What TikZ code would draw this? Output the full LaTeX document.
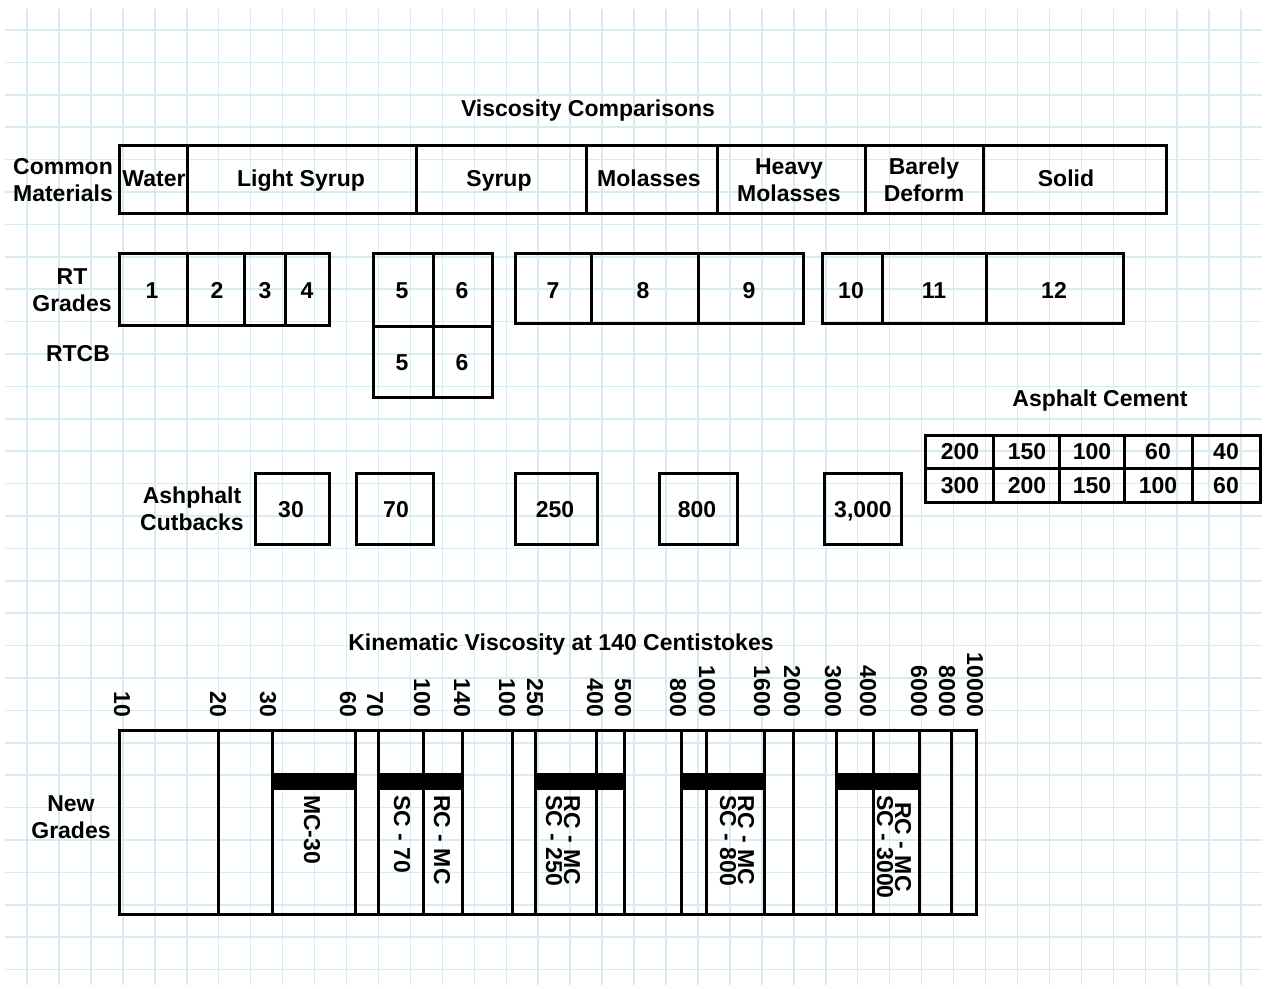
\documentclass[tikz,border=0pt]{standalone}
\usepackage{fontspec}
\setmainfont{Liberation Sans}
\begin{document}
\begin{tikzpicture}[x=1pt,y=-1pt,
  gridline/.style={draw={rgb,255:red,214;green,236;blue,241},line width=1.5pt},
  frame/.style={draw=black,line width=3pt,line join=miter},
  txt/.style={font=\bfseries\fontsize{23}{27}\selectfont,align=center,inner sep=0pt},
  one/.style={txt,text height=16.5pt,text depth=0pt},
  vlab/.style={font=\bfseries\fontsize{23}{18}\selectfont,align=center,inner sep=0pt,rotate=-90},
  bar/.style={fill=black,draw=none}]
\useasboundingbox (0,0) rectangle (1266,988);
\fill[white] (0,0) rectangle (1266,988);
% background grid
\foreach \i in {0,...,38} \draw[gridline] ({27+31.95*\i},9) -- ({27+31.95*\i},985);
\foreach \j in {0,...,29} \draw[gridline] (5,{30+32.4*\j}) -- (1262,{30+32.4*\j});

% ---------- Common materials ----------
\node[one] (title) at (588,108) {Viscosity Comparisons};
\node[txt] (cm) at (63,180) {Common\\Materials};
\draw[frame] (119,145) rectangle (1166,213);
\foreach \x in {187,416,586,717,865,983} \draw[frame] (\x,145) -- (\x,213);
\node[one] (water) at (154,178) {Water};
\node[one] (lsyr) at (301,178) {Light Syrup};
\node[one] (syr) at (499,178) {Syrup};
\node[one] (mol) at (649,178) {Molasses};
\node[txt] (hmol) at (789,180) {Heavy\\Molasses};
\node[txt] (bar) at (924,180) {Barely\\Deform};
\node[one] (solid) at (1066,178) {Solid};

% ---------- RT grades ----------
\node[txt] (rt) at (72,290) {RT\\Grades};
\node[one] (rtcb) at (78,353) {RTCB};
\draw[frame] (119,253) rectangle (329,325);
\foreach \x in {187,244,285} \draw[frame] (\x,253) -- (\x,325);
\draw[frame] (373,253) rectangle (492,397);
\draw[frame] (433,253) -- (433,397);
\draw[frame] (373,326) -- (492,326);
\draw[frame] (515,253) rectangle (803,323);
\foreach \x in {591,698} \draw[frame] (\x,253) -- (\x,323);
\draw[frame] (822,253) rectangle (1123,323);
\foreach \x in {882,986} \draw[frame] (\x,253) -- (\x,323);
\node[one] (g1) at (152,290) {1};
\node[one] (g2) at (217,290) {2};
\node[one] (g3) at (265,290) {3};
\node[one] (g4) at (307,290) {4};
\node[one] (g5) at (402,290) {5};
\node[one] (g6) at (462,290) {6};
\node[one] (c5) at (402,362) {5};
\node[one] (c6) at (462,362) {6};
\node[one] (g7) at (553,290) {7};
\node[one] (g8) at (643,290) {8};
\node[one] (g9) at (749,290) {9};
\node[one] (g10) at (851,290) {10};
\node[one] (g11) at (934,290) {11};
\node[one] (g12) at (1054,290) {12};

% ---------- Asphalt cement ----------
\node[one] (ac) at (1100,398) {Asphalt Cement};
\draw[frame] (925,435) rectangle (1260,502);
\foreach \x in {993,1059,1124,1192} \draw[frame] (\x,435) -- (\x,502);
\draw[frame] (925,468) -- (1260,468);
\node[one] (a11) at (960,451) {200};
\node[one] (a12) at (1027,451) {150};
\node[one] (a13) at (1092,451) {100};
\node[one] (a14) at (1158,451) {60};
\node[one] (a15) at (1226,451) {40};
\node[one] (a21) at (960,485) {300};
\node[one] (a22) at (1027,485) {200};
\node[one] (a23) at (1092,485) {150};
\node[one] (a24) at (1158,485) {100};
\node[one] (a25) at (1226,485) {60};

% ---------- Cutbacks ----------
\node[txt] (cut) at (192,509) {Ashphalt\\Cutbacks};
\foreach \a/\b in {255/329,356/433,515/597,659/737,824/901} \draw[frame] (\a,473) rectangle (\b,544);
\node[one] (k30) at (291,509) {30};
\node[one] (k70) at (396,509) {70};
\node[one] (k250) at (555,509) {250};
\node[one] (k800) at (697,509) {800};
\node[one] (k3000) at (863,509) {3,000};

% ---------- Kinematic viscosity ----------
\node[one] (kin) at (561,642) {Kinematic Viscosity at 140 Centistokes};
\node[txt] (ng) at (71,817) {New\\Grades};
\foreach \a/\b in {272/355,378/462,535/624,681/764,836/919} \fill[bar] (\a,773) rectangle (\b,790);
\draw[frame] (119,730) rectangle (976,914);
\foreach \x in {218,272,355,378,423,462,512,535,596,624,681,706,764,793,836,873,919,951}
  \draw[frame] (\x,730) -- (\x,914);
\foreach \x/\t [count=\n] in {122/10,218/20,268/30,348/60,375/70,422/100,462/140,507/100,535/250,595/400,623/500,678/800,707/1000,762/1600,792/2000,833/3000,868/4000,919/6000,947/8000,975/10000}
  \node[vlab,anchor=east] (s\n) at (\x,717) {\t};
\node[vlab,anchor=west] (mc30) at (312,795) {MC-30};
\node[vlab,anchor=west] (sc70) at (402,795) {SC - 70};
\node[vlab,anchor=west] (rcmc) at (442,795) {RC - MC};
\node[vlab,anchor=west] (n250) at (563,795) {RC - MC\\SC - 250};
\node[vlab,anchor=west] (n800) at (737,795) {RC - MC\\SC - 800};
\node[vlab,anchor=west] (n3000) at (894,795) {RC - MC\\SC - 3000};
\end{tikzpicture}
\end{document}
